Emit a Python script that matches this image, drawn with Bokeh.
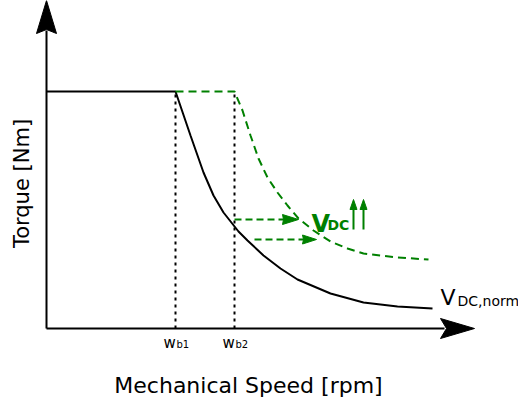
from bokeh.plotting import figure
from bokeh.models import Range1d
from bokeh.embed import file_html
from bokeh.resources import INLINE
from bokeh.core.properties import value
import math

# ---------------- data (speed / torque in drawing units) ----------------
speed_axis_end = 428
torque_axis_end = 328
wb1 = 129
wb2 = 188
torque_rated = 237

speed_norm = [0, 129, 144, 157, 167, 177, 192, 201, 217, 234, 251, 284, 317, 351, 386]
torque_norm = [237, 237, 193, 156, 133, 116, 97, 88, 73, 60, 49, 35, 26, 22, 20]

speed_high = [129, 188, 196, 204, 212, 221, 231, 241, 252, 267, 284, 301, 317, 351, 382]
torque_high = [237, 237, 218, 193, 170, 151, 136, 123, 110, 98, 87, 80, 75, 71, 69]

shift_y = [109, 89]
shift_x0 = [188, 208]
shift_x1 = [252, 270]

up_x = [307, 317]
up_y0 = 99
up_y1 = 129

x_label = "Mechanical Speed [rpm]"
y_label = "Torque [Nm]"
wb_labels = ["b1", "b2"]
norm_label = ("V", "DC,norm")
vdc_label = ("V", "DC")

GREEN = "#008000"
FONT = value("DejaVu Sans")

p = figure(width=518, height=403, output_backend="svg", toolbar_location=None,
           x_range=Range1d(-46, 472), y_range=Range1d(-75, 328),
           x_axis_type=None, y_axis_type=None, min_border=0)
p.outline_line_color = None
p.grid.visible = False
p.background_fill_color = "white"
p.border_fill_color = "white"


def head(tx, ty, dx, dy, length, half, notch):
    # arrow head polygon: tip, wing, notch, wing
    nx, ny = -dy, dx
    bx, by = tx - dx * length, ty - dy * length
    mx, my = tx - dx * (length - notch), ty - dy * (length - notch)
    return ([tx, bx + nx * half, mx, bx - nx * half],
            [ty, by + ny * half, my, by - ny * half])


# axes
p.line([0, 0], [0, torque_axis_end - 30], line_color="black", line_width=2)
p.line([0, speed_axis_end - 30], [0, 0], line_color="black", line_width=2)
hx, hy = head(0, torque_axis_end, 0, 1, 33, 10, 4)
p.patch(hx, hy, fill_color="black", line_color="black", line_width=1)
hx, hy = head(speed_axis_end, 0, 1, 0, 34, 10, 6)
p.patch(hx, hy, fill_color="black", line_color="black", line_width=1)

# base speed dotted lines
for w in (wb1, wb2):
    p.line([w, w], [0, torque_rated], line_color="black", line_width=2, line_dash="3 4")

# curves
p.line(speed_norm, torque_norm, line_color="black", line_width=2)
p.line(speed_high, torque_high, line_color=GREEN, line_width=2, line_dash="8 5")

# horizontal shift arrows
for yy, x0, x1, L, hw in zip(shift_y, shift_x0, shift_x1, [16, 14], [5, 4.5]):
    p.line([x0, x1 - L + 2], [yy, yy], line_color=GREEN, line_width=2, line_dash="7 4")
    hx, hy = head(x1, yy, 1, 0, L, hw, 1)
    p.patch(hx, hy, fill_color=GREEN, line_color=GREEN, line_width=1)

# up arrows
for ux in up_x:
    p.line([ux, ux], [up_y0, up_y1 - 8], line_color=GREEN, line_width=2)
    hx, hy = head(ux, up_y1, 0, 1, 10, 3.5, 0)
    p.patch(hx, hy, fill_color=GREEN, line_color=GREEN, line_width=1)

# texts
p.text(x=[202], y=[-57], text=[x_label], text_font=FONT, text_font_size=value("22px"),
       text_align="center", text_baseline="alphabetic", text_color="black")
p.text(x=[-25], y=[145], text=[y_label], text_font=FONT, text_font_size=value("21px"),
       text_align="center", text_baseline="middle", text_color="black", angle=math.pi / 2)

for w, lab in zip((wb1, wb2), wb_labels):
    p.text(x=[w - 12], y=[-14], text=["w"], text_font=FONT, text_font_size=value("15px"),
           text_align="left", text_baseline="alphabetic", text_color="black")
    p.text(x=[w + 1], y=[-16], text=[lab], text_font=FONT, text_font_size=value("10px"),
           text_align="left", text_baseline="alphabetic", text_color="black")

p.text(x=[394], y=[31], text=[norm_label[0]], text_font=FONT, text_font_size=value("22px"),
       text_align="left", text_baseline="alphabetic", text_color="black")
p.text(x=[411], y=[28], text=[norm_label[1]], text_font=FONT, text_font_size=value("14px"),
       text_align="left", text_baseline="alphabetic", text_color="black")

p.text(x=[265], y=[105], text=[vdc_label[0]], text_font=FONT, text_font_size=value("24px"),
       text_font_style="bold", text_align="left", text_baseline="alphabetic", text_color=GREEN)
p.text(x=[281], y=[104], text=[vdc_label[1]], text_font=FONT, text_font_size=value("14px"),
       text_font_style="bold", text_align="left", text_baseline="alphabetic", text_color=GREEN)

open("out.html", "w").write(file_html(p, INLINE))
